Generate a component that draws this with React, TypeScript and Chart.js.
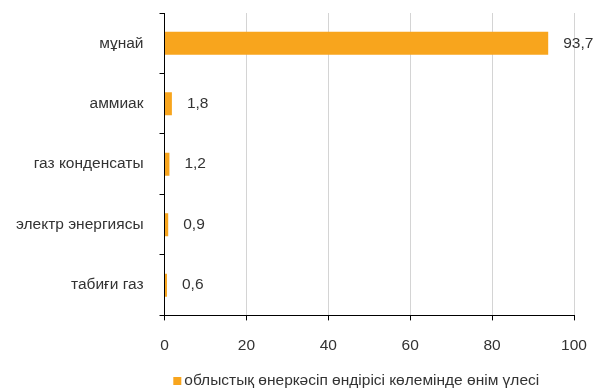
import React, { useEffect, useRef } from "react";
import { Chart, registerables } from "chart.js";

Chart.register(...registerables);

const categories = ["мұнай", "аммиак", "газ конденсаты", "электр энергиясы", "табиғи газ"];
const values = [93.7, 1.8, 1.2, 0.9, 0.6];
const seriesLabel = "облыстық өнеркәсіп өндірісі көлемінде өнім үлесі";
const xTicks = [0, 20, 40, 60, 80, 100];

const FONT = "'Liberation Sans', Arial, sans-serif";
const FS = 15.5;
const TEXT = "#333333";
const BAR = "#F8A51D";

const valueLabels = {
  id: "valueLabels",
  afterDatasetsDraw(chart: any) {
    const ctx = chart.ctx;
    const meta = chart.getDatasetMeta(0);
    ctx.save();
    ctx.font = `${FS}px ${FONT}`;
    ctx.fillStyle = TEXT;
    ctx.textAlign = "left";
    ctx.textBaseline = "middle";
    meta.data.forEach((el: any, i: number) => {
      const v = values[i];
      ctx.fillText(v.toFixed(1).replace(".", ","), el.x + 15, el.y);
    });
    ctx.restore();
  },
};

const customLegend = {
  id: "customLegend",
  afterDraw(chart: any) {
    const ctx = chart.ctx;
    const ds = chart.data.datasets[0];
    ctx.save();
    ctx.font = `${FS}px ${FONT}`;
    const tw = ctx.measureText(ds.label).width;
    const box = 8;
    const gap = 3;
    const total = box + gap + tw;
    const cx = (chart.chartArea.left + chart.chartArea.right) / 2 - 13;
    const x0 = cx - total / 2;
    const y = chart.height - 11;
    ctx.fillStyle = ds.backgroundColor;
    ctx.fillRect(x0, y - box / 2, box, box);
    ctx.fillStyle = TEXT;
    ctx.textAlign = "left";
    ctx.textBaseline = "middle";
    ctx.fillText(ds.label, x0 + box + gap, y);
    ctx.restore();
  },
};

export default function App() {
  const ref = useRef<HTMLCanvasElement | null>(null);
  useEffect(() => {
    document.body.style.margin = "0";
    const chart = new Chart(ref.current!, {
      type: "bar",
      data: {
        labels: categories,
        datasets: [
          {
            label: seriesLabel,
            data: values,
            backgroundColor: BAR,
            borderWidth: 0,
            barPercentage: 0.38,
            categoryPercentage: 1,
          },
        ],
      },
      options: {
        indexAxis: "y",
        animation: false,
        responsive: true,
        maintainAspectRatio: false,
        layout: { padding: { top: 13, right: 22, left: 0, bottom: 21 } },
        scales: {
          x: {
            min: 0,
            max: 100,
            afterBuildTicks: (axis: any) => {
              axis.ticks = xTicks.map((v) => ({ value: v }));
            },
            afterFit: (axis: any) => {
              axis.paddingLeft = 0;
              axis.paddingRight = 0;
            },
            grid: {
              color: "#d4d4d4",
              tickColor: "#000",
              tickLength: 5,
              lineWidth: 1,
            },
            border: { color: "#000", width: 1 },
            ticks: {
              font: { family: FONT, size: FS },
              color: TEXT,
              padding: 16,
            },
          },
          y: {
            afterFit: (axis: any) => {
              axis.paddingTop = 0;
              axis.paddingBottom = 0;
            },
            grid: {
              offset: true,
              drawOnChartArea: false,
              tickColor: "#000",
              tickLength: 5,
            },
            border: { color: "#000", width: 1 },
            ticks: {
              font: { family: FONT, size: FS },
              color: TEXT,
              padding: 16,
            },
          },
        },
        plugins: {
          legend: { display: false },
          tooltip: { enabled: false },
        },
      },
      plugins: [valueLabels, customLegend],
    });
    return () => chart.destroy();
  }, []);
  return (
    <div style={{ position: "relative", width: 596, height: 392 }}>
      <canvas ref={ref} />
    </div>
  );
}
